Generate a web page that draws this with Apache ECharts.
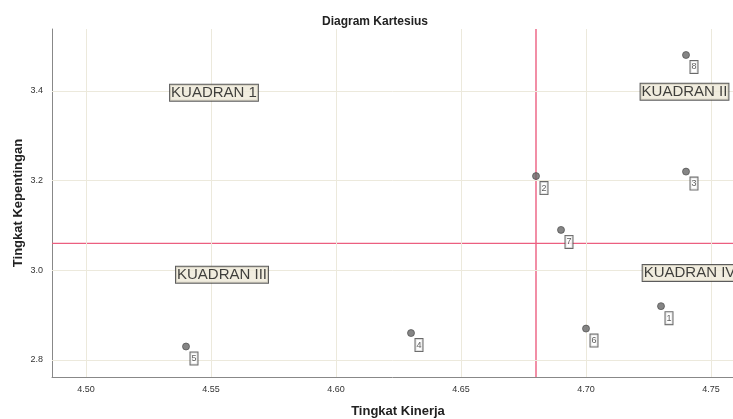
<!DOCTYPE html>
<html><head><meta charset="utf-8">
<script src="https://cdn.jsdelivr.net/npm/echarts@6/dist/echarts.min.js"></script>
<style>html,body{margin:0;padding:0;background:#fff}#c{width:733px;height:419px}</style>
</head><body><div id="c"></div>
<script>
// Data
const pointIds = ['1','2','3','4','5','6','7','8'];
const kinerja = [4.73, 4.68, 4.74, 4.63, 4.54, 4.70, 4.69, 4.74];
const kepentingan = [2.92, 3.21, 3.22, 2.86, 2.83, 2.87, 3.09, 3.48];
const xTicks = [4.50, 4.55, 4.60, 4.65, 4.70, 4.75];
const yTicks = [2.8, 3.0, 3.2, 3.4];
const meanKinerja = 4.68;
const meanKepentingan = 3.06;
const quadrantNames = ['KUADRAN 1', 'KUADRAN II', 'KUADRAN III', 'KUADRAN IV'];
const quadrantX = [4.5512, 4.7394, 4.5544, 4.7414];
const quadrantY = [3.396, 3.398, 2.99, 2.994];
const xRange = [4.4864, 4.7588];
const yRange = [2.762, 3.538];

const FONT = 'Liberation Sans, Arial, sans-serif';
const gridColor = '#ece9dc';
const refColor = '#ec5f80';

function refLine(points) {
  return {
    type: 'line', data: points, silent: true, z: 3,
    symbol: 'none', showSymbol: false, clip: true,
    lineStyle: {color: refColor, width: 1.4, type: 'solid'},
    itemStyle: {color: refColor},
    emphasis: {disabled: true}
  };
}

const chart = echarts.init(document.getElementById('c'), null, {renderer: 'canvas'});
chart.setOption({
  animation: false,
  backgroundColor: '#fff',
  tooltip: {show: false},
  title: {
    text: 'Diagram Kartesius', left: 317, top: 11,
    textStyle: {fontFamily: FONT, fontSize: 12, fontWeight: 'bold', color: '#222'}
  },
  grid: {left: 52, top: 29, right: 0, bottom: 42, containLabel: false, outerBoundsMode: 'none'},
  xAxis: {
    type: 'value', min: xRange[0], max: xRange[1],
    name: 'Tingkat Kinerja', nameLocation: 'middle', nameGap: 28, nameMoveOverlap: false,
    nameTextStyle: {fontFamily: FONT, fontSize: 13, fontWeight: 'bold', color: '#222', padding: [0, 0, 0, 11]},
    axisLine: {show: true, onZero: false, lineStyle: {color: '#888', width: 1}},
    axisTick: {show: false, customValues: xTicks},
    splitLine: {show: false},
    axisPointer: {show: false},
    axisLabel: {customValues: xTicks, formatter: v => v.toFixed(2), fontFamily: FONT, fontSize: 9, color: '#333', margin: 8}
  },
  yAxis: {
    type: 'value', min: yRange[0], max: yRange[1],
    name: 'Tingkat Kepentingan', nameLocation: 'middle', nameGap: 27, nameRotate: 90, nameMoveOverlap: false,
    nameTextStyle: {fontFamily: FONT, fontSize: 13, fontWeight: 'bold', color: '#222'},
    axisLine: {show: true, onZero: false, lineStyle: {color: '#888', width: 1}},
    axisTick: {show: false, customValues: yTicks},
    splitLine: {show: false},
    axisPointer: {show: false},
    axisLabel: {customValues: yTicks, formatter: v => v.toFixed(1), fontFamily: FONT, fontSize: 9, color: '#333', margin: 9}
  },
  series: [
    {
      type: 'scatter', data: [], silent: true, z: 1,
      markLine: {
        silent: true, symbol: 'none', animation: false,
        label: {show: false},
        lineStyle: {color: gridColor, width: 1, type: 'solid'},
        data: xTicks.map(v => ({xAxis: v})).concat(yTicks.map(v => ({yAxis: v})))
      }
    },
    refLine([[meanKinerja, yRange[0]], [meanKinerja, yRange[1]]]),
    refLine([[xRange[0], meanKepentingan], [xRange[1], meanKepentingan]]),
    {
      type: 'scatter', z: 5,
      symbol: 'circle', symbolSize: 7,
      itemStyle: {color: '#666', borderColor: '#444', borderWidth: 0.8},
      data: kinerja.map((x, i) => ({value: [x, kepentingan[i]], name: pointIds[i]})),
      label: {
        show: true, formatter: p => p.name, position: 'inside', offset: [8, 12],
        fontFamily: FONT, fontSize: 9, color: '#333',
        backgroundColor: '#fff', borderColor: '#444', borderWidth: 1,
        padding: [2, 1, 1, 1]
      }
    },
    {
      type: 'scatter', z: 6, symbolSize: 0,
      data: quadrantX.map((x, i) => ({value: [x, quadrantY[i]], name: quadrantNames[i]})),
      label: {
        show: true, formatter: p => p.name, position: 'inside',
        fontFamily: FONT, fontSize: 15, color: '#111',
        backgroundColor: '#ede8d7', borderColor: '#333', borderWidth: 1,
        padding: [1, 1, 0, 1]
      }
    }
  ]
});
</script></body></html>
